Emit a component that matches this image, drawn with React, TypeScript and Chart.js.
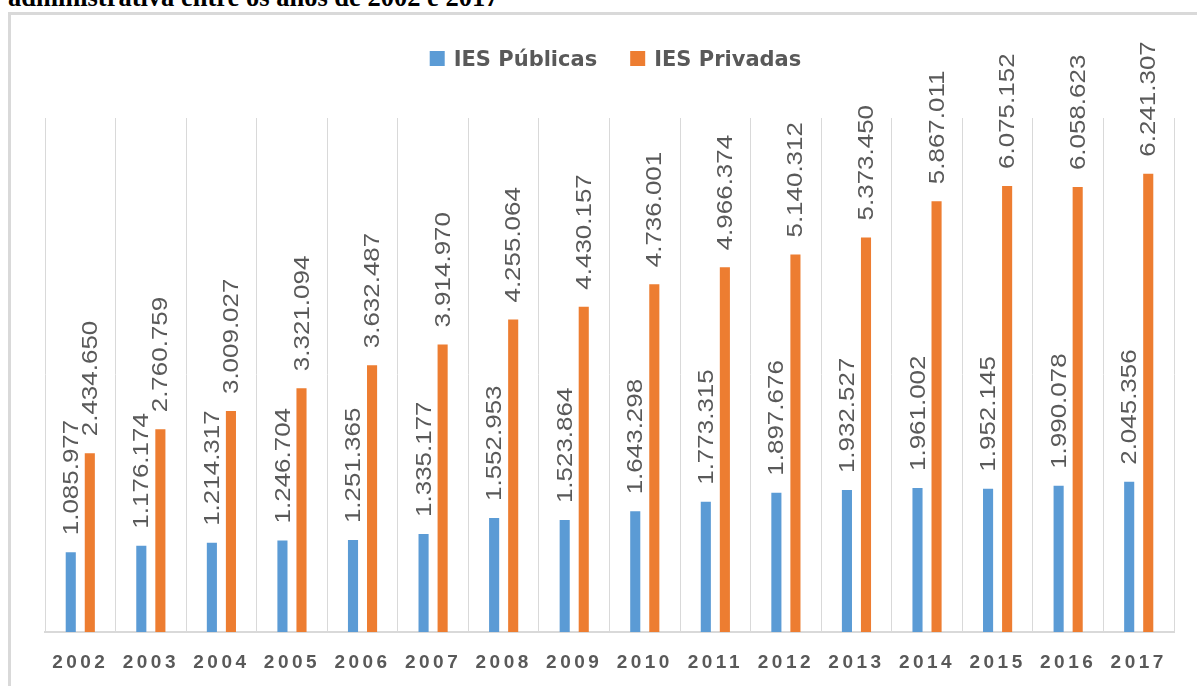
import React, { useEffect, useRef } from "react";
import { Chart, registerables } from "chart.js";

Chart.register(...registerables);

const years = ["2002", "2003", "2004", "2005", "2006", "2007", "2008", "2009", "2010", "2011", "2012", "2013", "2014", "2015", "2016", "2017"];
const publicas = [1085977, 1176174, 1214317, 1246704, 1251365, 1335177, 1552953, 1523864, 1643298, 1773315, 1897676, 1932527, 1961002, 1952145, 1990078, 2045356];
const privadas = [2434650, 2760759, 3009027, 3321094, 3632487, 3914970, 4255064, 4430157, 4736001, 4966374, 5140312, 5373450, 5867011, 6075152, 6058623, 6241307];
const seriesNames = ["IES Públicas", "IES Privadas"];
const seriesColors = ["#5B9BD5", "#ED7D31"];
const titleText = "administrativa entre os anos de 2002 e 2017";
const yMax = 7000000;

function fmt(v: number): string {
  return String(v).replace(/\B(?=(\d{3})+(?!\d))/g, ".");
}

const tickSpacing = {
  id: "tickSpacing",
  beforeDraw(chart: any) {
    chart.ctx.letterSpacing = "3.5px";
  },
  beforeDatasetsDraw(chart: any) {
    chart.ctx.letterSpacing = "0px";
  },
};

const valueLabels = {
  id: "valueLabels",
  afterDatasetsDraw(chart: any) {
    const ctx = chart.ctx;
    ctx.save();
    ctx.letterSpacing = "0px";
    ctx.font = '22px "Liberation Sans"';
    ctx.fillStyle = "#595959";
    ctx.textAlign = "left";
    ctx.textBaseline = "middle";
    chart.data.datasets.forEach((ds: any, i: number) => {
      const meta = chart.getDatasetMeta(i);
      meta.data.forEach((bar: any, j: number) => {
        ctx.save();
        ctx.translate(bar.x + 1, bar.y - 17);
        ctx.rotate(-Math.PI / 2);
        ctx.scale(1.18, 1);
        ctx.fillText(fmt(ds.data[j]), 0, 0);
        ctx.restore();
      });
    });
    ctx.restore();
  },
};

const customLegend = {
  id: "customLegend",
  afterDraw(chart: any) {
    const ctx = chart.ctx;
    ctx.save();
    ctx.letterSpacing = "0px";
    ctx.font = 'bold 21px "DejaVu Sans"';
    const box = 15;
    const gap = 9;
    const itemGap = 33;
    const widths = chart.data.datasets.map((d: any) => box + gap + ctx.measureText(d.label).width);
    const total = widths.reduce((a: number, b: number) => a + b, 0) + itemGap * (widths.length - 1);
    let x = chart.width / 2 + 17 - total / 2;
    chart.data.datasets.forEach((d: any, i: number) => {
      ctx.fillStyle = d.backgroundColor;
      ctx.fillRect(x, 51, box, box);
      ctx.fillStyle = "#595959";
      ctx.textBaseline = "alphabetic";
      ctx.textAlign = "left";
      ctx.fillText(d.label, x + box + gap, 66);
      x += widths[i] + itemGap;
    });
    ctx.restore();
  },
};

export default function App() {
  const ref = useRef<HTMLCanvasElement>(null);

  useEffect(() => {
    if (!ref.current) return;
    const chart = new Chart(ref.current, {
      type: "bar",
      data: {
        labels: years,
        datasets: [
          {
            label: seriesNames[0],
            data: publicas,
            backgroundColor: seriesColors[0],
            categoryPercentage: 0.54,
            barPercentage: 0.53,
          },
          {
            label: seriesNames[1],
            data: privadas,
            backgroundColor: seriesColors[1],
            categoryPercentage: 0.54,
            barPercentage: 0.53,
          },
        ],
      },
      options: {
        animation: false,
        responsive: false,
        layout: { padding: { left: 45, right: 23, top: 118, bottom: 14 } },
        plugins: {
          legend: { display: false },
          tooltip: { enabled: false },
        },
        scales: {
          x: {
            grid: { color: "#d9d9d9", lineWidth: 1, drawTicks: false, offset: true },
            border: { color: "#d9d9d9", width: 2 },
            ticks: {
              color: "#595959",
              font: { family: "Liberation Sans", weight: "bold", size: 19 },
              padding: 19,
              maxRotation: 0,
              autoSkip: false,
            },
            afterFit: (s: any) => {
              s.height = 40;
            },
          },
          y: { display: false, min: 0, max: yMax },
        },
      },
      plugins: [tickSpacing, valueLabels, customLegend],
    } as any);
    return () => chart.destroy();
  }, []);

  return (
    <div style={{ position: "fixed", left: 0, top: 0, width: 1197, height: 686, overflow: "hidden", background: "#fff" }}>
      <div
        style={{
          position: "absolute",
          left: 8,
          top: -16,
          font: 'bold 26.5px "Liberation Serif"',
          lineHeight: "26px",
          whiteSpace: "nowrap",
          color: "#000",
        }}
      >
        {titleText}
      </div>
      <div
        style={{
          position: "absolute",
          left: 8,
          top: 12,
          width: 1400,
          height: 900,
          border: "3px solid #d9d9d9",
          boxSizing: "border-box",
        }}
      />
      <canvas ref={ref} width={1197} height={686} style={{ position: "absolute", left: 0, top: 0 }} />
    </div>
  );
}
